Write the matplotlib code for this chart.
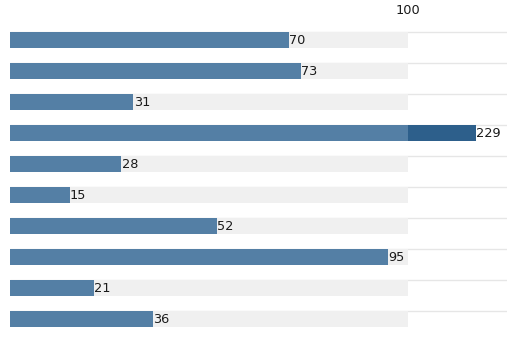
import matplotlib
matplotlib.use("Agg")
import matplotlib.pyplot as plt

values = [70, 73, 31, 229, 28, 15, 52, 95, 21, 36]
scale_max = 100
overflow_display = 117  # where overflowing bars are cut off on screen
top_label = "100"

W, H = 507, 353
fig = plt.figure(figsize=(W / 100, H / 100), dpi=100)
ax = fig.add_axes([0, 0, 1, 1])
ppu = 3.98  # pixels per unit
x0 = 10
ax.set_xlim(-x0 / ppu, (W - x0) / ppu)
y0, dy = 40, 31
ax.set_ylim((H - y0) / dy, -y0 / dy)
ax.axis("off")

bh = 15.5 / dy
for i, v in enumerate(values):
    top = i - bh / 2
    ax.plot([0, (W - x0) / ppu], [top - 0.02, top - 0.02], color="#e6e6e6", lw=1, solid_capstyle="butt", zorder=1)
    ax.barh(i, scale_max, height=bh, left=0, color="#f0f0f0", zorder=2)
    main = min(v, scale_max)
    ax.barh(i, main, height=bh, left=0, color="#547fa5", zorder=3)
    end = main
    if v > scale_max:
        ax.barh(i, overflow_display - scale_max, height=bh, left=scale_max, color="#2d5f8b", zorder=3)
        end = overflow_display
    ax.text(end + 0.05, i + 0.02, str(v), ha="left", va="center", fontsize=9.3, color="#1a1a1a",
            family="DejaVu Sans", zorder=4)

ax.text(scale_max, (10 - y0) / dy, top_label, ha="center", va="center", fontsize=9.3, color="#1a1a1a",
        family="DejaVu Sans")

fig.savefig("out.png", dpi=100)
